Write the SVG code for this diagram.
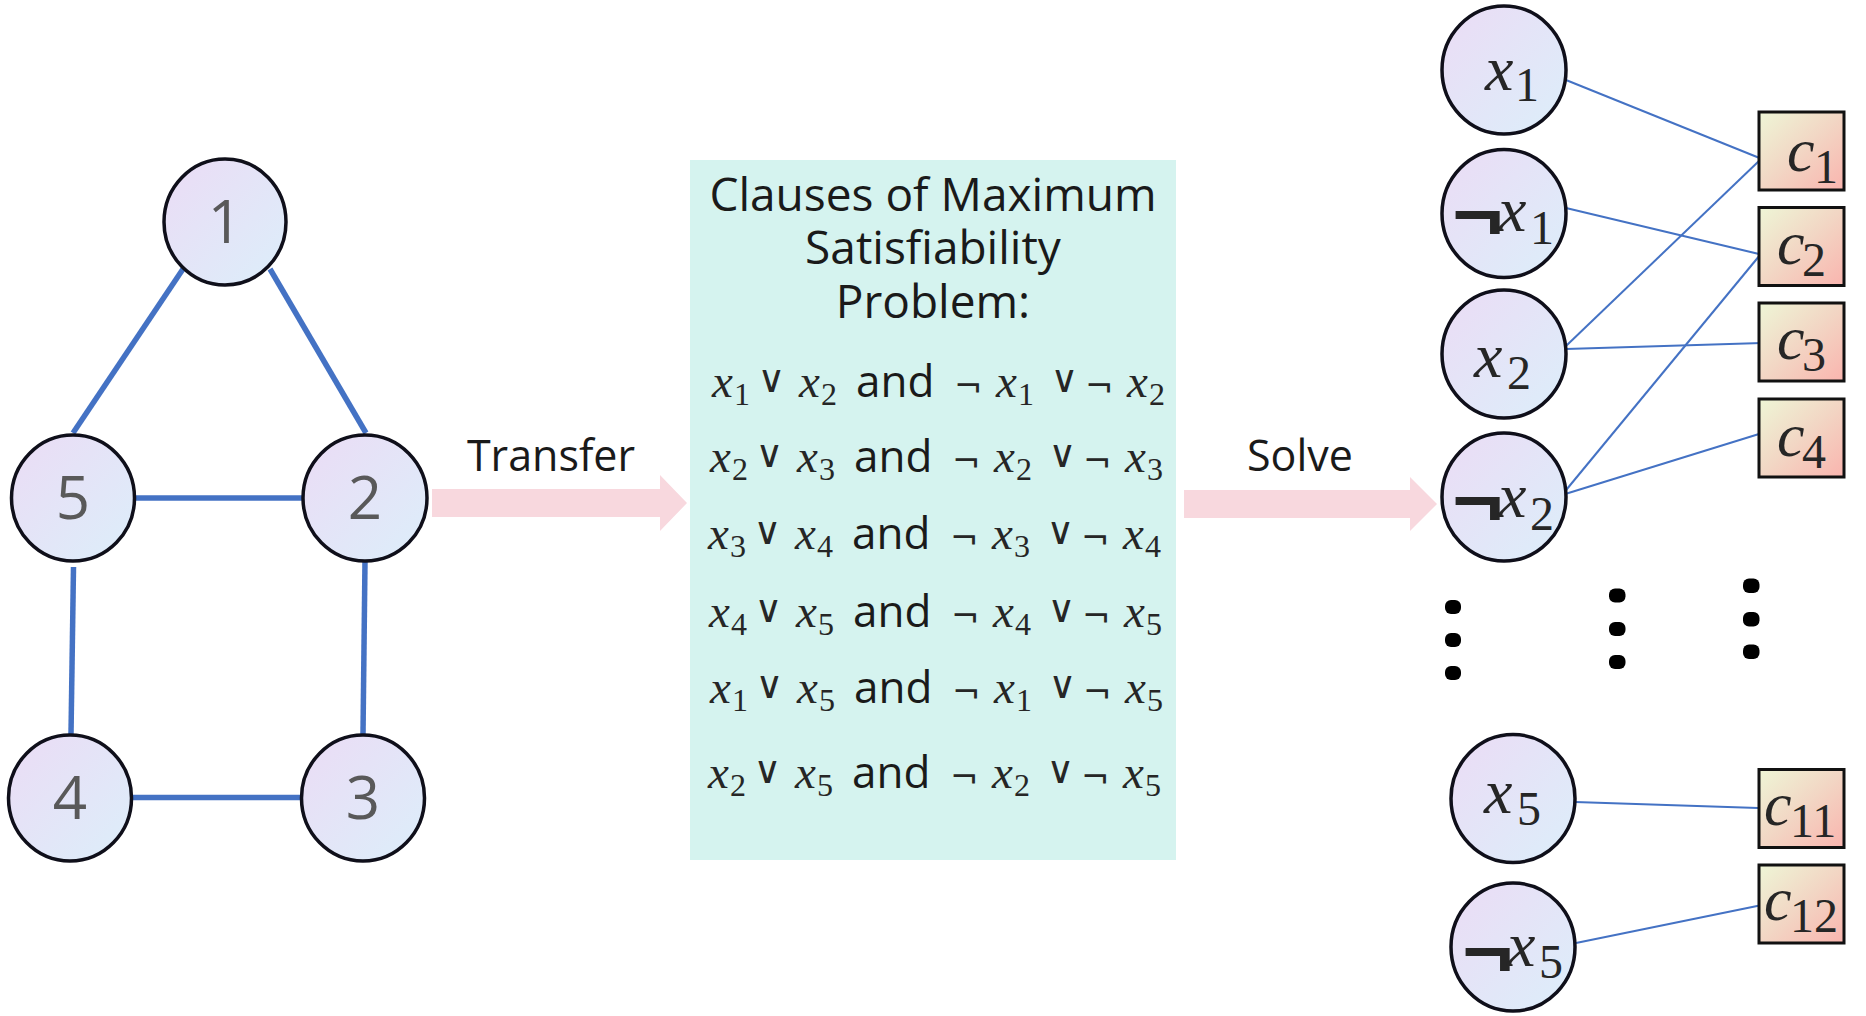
<svg xmlns="http://www.w3.org/2000/svg" width="1866" height="1016" viewBox="0 0 1866 1016">
<defs>
<linearGradient id="gNode" x1="0" y1="0" x2="1" y2="1">
<stop offset="0" stop-color="#EBDCF5"/>
<stop offset="1" stop-color="#DCEEFA"/>
</linearGradient>
<linearGradient id="gBox" x1="0" y1="0" x2="1" y2="1">
<stop offset="0" stop-color="#EEF6D6"/>
<stop offset="0.5" stop-color="#F2D6C4"/>
<stop offset="1" stop-color="#FAB4AE"/>
</linearGradient>
<style>
.node{fill:url(#gNode);stroke:#0F0F1A;stroke-width:3.5}
.box{fill:url(#gBox);stroke:#111;stroke-width:3}
.edge{stroke:#4472C4;stroke-width:5.5;fill:none}
.link{stroke:#4472C4;stroke-width:2;fill:none}
.arrow{fill:#F8D8DE}
.dig{font-family:"Open Sans",sans-serif;font-size:60px;fill:#595959;text-anchor:middle}
.sans{font-family:"Open Sans",sans-serif;fill:#1A1A1A}
.mi{font-family:"Liberation Serif",serif;font-style:italic;fill:#262626}
.mn{font-family:"Liberation Serif",serif;fill:#262626}
.sym{font-family:"DejaVu Sans",sans-serif;fill:#262626}
.neg{font-family:"Liberation Sans",sans-serif;font-weight:bold;font-size:72px;fill:#262626}
.r .mi{font-size:47px}
.r .mn{font-size:32px}
.r .sym{font-size:34px}
.r .or{font-size:38px}
.r .sans{font-size:44px}
.dot{fill:#000}
</style>
</defs>

<g id="connectors">
<line class="edge" x1="183" y1="269" x2="73" y2="433"/>
<line class="edge" x1="270" y1="269" x2="366" y2="433"/>
<line class="edge" x1="135" y1="498" x2="303" y2="498"/>
<line class="edge" x1="73.5" y1="567" x2="71" y2="734"/>
<line class="edge" x1="365" y1="561" x2="363" y2="734"/>
<line class="edge" x1="132" y1="797.5" x2="301" y2="797.5"/>
<line class="link" x1="1561" y1="78" x2="1762" y2="159"/>
<line class="link" x1="1566" y1="346" x2="1760" y2="160"/>
<line class="link" x1="1566" y1="208" x2="1759" y2="254"/>
<line class="link" x1="1562" y1="495" x2="1760" y2="255"/>
<line class="link" x1="1566" y1="349" x2="1762" y2="343"/>
<line class="link" x1="1562" y1="495" x2="1759" y2="434"/>
<line class="link" x1="1575" y1="802" x2="1758" y2="808"/>
<line class="link" x1="1576" y1="943" x2="1762" y2="905"/>
</g>

<g id="arrow-transfer">
<polygon class="arrow" points="432,489 660,489 660,475 687,503 660,531 660,517 432,517"/>
<text class="sans" x="551" y="471" font-size="43" text-anchor="middle">Transfer</text>
</g>
<g id="arrow-solve">
<polygon class="arrow" points="1184,490 1410,490 1410,477 1437,504 1410,531 1410,518 1184,518"/>
<text class="sans" x="1300" y="471" font-size="43" text-anchor="middle">Solve</text>
</g>

<g id="n1"><ellipse class="node" cx="225" cy="222" rx="61" ry="63"/><text class="dig" x="225" y="243">1</text></g>
<g id="n5"><ellipse class="node" cx="73" cy="498" rx="61.5" ry="63"/><text class="dig" x="73" y="519">5</text></g>
<g id="n2"><ellipse class="node" cx="365" cy="498" rx="62" ry="63"/><text class="dig" x="365" y="519">2</text></g>
<g id="n4"><ellipse class="node" cx="70" cy="798" rx="61.5" ry="63"/><text class="dig" x="70" y="819">4</text></g>
<g id="n3"><ellipse class="node" cx="363" cy="798" rx="61.5" ry="63"/><text class="dig" x="363" y="819">3</text></g>

<g id="clauses">
<rect x="690" y="160" width="486" height="700" fill="#D5F3EF"/>
<text class="sans" font-size="46" text-anchor="middle"><tspan x="933" y="211">Clauses of Maximum</tspan><tspan x="933" y="264">Satisfiability</tspan><tspan x="933" y="318">Problem:</tspan></text>
<g class="r" id="row1" transform="translate(0,397)">
<text class="mi" x="712" y="0">x</text><text class="mn" x="734" y="8">1</text>
<text class="sym or" x="757.5" y="-5">∨</text>
<text class="mi" x="799" y="0">x</text><text class="mn" x="821" y="8">2</text>
<text class="sans" x="856" y="0">and</text>
<text class="sym" x="954" y="0">¬</text>
<text class="mi" x="996" y="0">x</text><text class="mn" x="1018" y="8">1</text>
<text class="sym or" x="1050.5" y="-5">∨</text>
<text class="sym" x="1085" y="0">¬</text>
<text class="mi" x="1127" y="0">x</text><text class="mn" x="1149" y="8">2</text>
</g>
<g class="r" id="row2" transform="translate(-2,472)">
<text class="mi" x="712" y="0">x</text><text class="mn" x="734" y="8">2</text>
<text class="sym or" x="757.5" y="-5">∨</text>
<text class="mi" x="799" y="0">x</text><text class="mn" x="821" y="8">3</text>
<text class="sans" x="856" y="0">and</text>
<text class="sym" x="954" y="0">¬</text>
<text class="mi" x="996" y="0">x</text><text class="mn" x="1018" y="8">2</text>
<text class="sym or" x="1050.5" y="-5">∨</text>
<text class="sym" x="1085" y="0">¬</text>
<text class="mi" x="1127" y="0">x</text><text class="mn" x="1149" y="8">3</text>
</g>
<g class="r" id="row3" transform="translate(-4,549)">
<text class="mi" x="712" y="0">x</text><text class="mn" x="734" y="8">3</text>
<text class="sym or" x="757.5" y="-5">∨</text>
<text class="mi" x="799" y="0">x</text><text class="mn" x="821" y="8">4</text>
<text class="sans" x="856" y="0">and</text>
<text class="sym" x="954" y="0">¬</text>
<text class="mi" x="996" y="0">x</text><text class="mn" x="1018" y="8">3</text>
<text class="sym or" x="1050.5" y="-5">∨</text>
<text class="sym" x="1085" y="0">¬</text>
<text class="mi" x="1127" y="0">x</text><text class="mn" x="1149" y="8">4</text>
</g>
<g class="r" id="row4" transform="translate(-3,627)">
<text class="mi" x="712" y="0">x</text><text class="mn" x="734" y="8">4</text>
<text class="sym or" x="757.5" y="-5">∨</text>
<text class="mi" x="799" y="0">x</text><text class="mn" x="821" y="8">5</text>
<text class="sans" x="856" y="0">and</text>
<text class="sym" x="954" y="0">¬</text>
<text class="mi" x="996" y="0">x</text><text class="mn" x="1018" y="8">4</text>
<text class="sym or" x="1050.5" y="-5">∨</text>
<text class="sym" x="1085" y="0">¬</text>
<text class="mi" x="1127" y="0">x</text><text class="mn" x="1149" y="8">5</text>
</g>
<g class="r" id="row5" transform="translate(-2,703)">
<text class="mi" x="712" y="0">x</text><text class="mn" x="734" y="8">1</text>
<text class="sym or" x="757.5" y="-5">∨</text>
<text class="mi" x="799" y="0">x</text><text class="mn" x="821" y="8">5</text>
<text class="sans" x="856" y="0">and</text>
<text class="sym" x="954" y="0">¬</text>
<text class="mi" x="996" y="0">x</text><text class="mn" x="1018" y="8">1</text>
<text class="sym or" x="1050.5" y="-5">∨</text>
<text class="sym" x="1085" y="0">¬</text>
<text class="mi" x="1127" y="0">x</text><text class="mn" x="1149" y="8">5</text>
</g>
<g class="r" id="row6" transform="translate(-4,788)">
<text class="mi" x="712" y="0">x</text><text class="mn" x="734" y="8">2</text>
<text class="sym or" x="757.5" y="-5">∨</text>
<text class="mi" x="799" y="0">x</text><text class="mn" x="821" y="8">5</text>
<text class="sans" x="856" y="0">and</text>
<text class="sym" x="954" y="0">¬</text>
<text class="mi" x="996" y="0">x</text><text class="mn" x="1018" y="8">2</text>
<text class="sym or" x="1050.5" y="-5">∨</text>
<text class="sym" x="1085" y="0">¬</text>
<text class="mi" x="1127" y="0">x</text><text class="mn" x="1149" y="8">5</text>
</g>
</g>

<g id="v-x1"><ellipse class="node" cx="1504" cy="70" rx="62" ry="64"/><text class="mi" font-size="64" x="1485" y="90">x</text><text class="mn" font-size="48" x="1515" y="101">1</text></g>
<g id="v-nx1"><ellipse class="node" cx="1504" cy="213.5" rx="62" ry="64"/><text class="neg" transform="translate(1452,239) scale(1.22,1)">¬</text><text class="mi" font-size="64" x="1498" y="231">x</text><text class="mn" font-size="48" x="1530" y="244">1</text></g>
<g id="v-x2"><ellipse class="node" cx="1504" cy="354" rx="62" ry="64"/><text class="mi" font-size="64" x="1474" y="377">x</text><text class="mn" font-size="48" x="1507" y="389">2</text></g>
<g id="v-nx2"><ellipse class="node" cx="1504" cy="497" rx="62" ry="64"/><text class="neg" transform="translate(1452,525) scale(1.22,1)">¬</text><text class="mi" font-size="64" x="1498" y="517">x</text><text class="mn" font-size="48" x="1530" y="530">2</text></g>
<g id="v-x5"><ellipse class="node" cx="1513" cy="798.5" rx="62" ry="64"/><text class="mi" font-size="64" x="1484" y="813">x</text><text class="mn" font-size="48" x="1517" y="825">5</text></g>
<g id="v-nx5"><ellipse class="node" cx="1513" cy="947" rx="62" ry="64"/><text class="neg" transform="translate(1462,976) scale(1.22,1)">¬</text><text class="mi" font-size="64" x="1507" y="966">x</text><text class="mn" font-size="48" x="1539" y="978">5</text></g>

<g id="c1"><rect class="box" x="1759" y="112" width="85" height="78"/><text class="mi" font-size="62" x="1787" y="171">c</text><text class="mn" font-size="48" x="1814" y="183">1</text></g>
<g id="c2"><rect class="box" x="1759" y="207.5" width="85" height="78"/><text class="mi" font-size="62" x="1777" y="264">c</text><text class="mn" font-size="48" x="1802" y="276">2</text></g>
<g id="c3"><rect class="box" x="1759" y="303" width="85" height="78"/><text class="mi" font-size="62" x="1777" y="359">c</text><text class="mn" font-size="48" x="1802" y="371">3</text></g>
<g id="c4"><rect class="box" x="1759" y="399" width="85" height="78"/><text class="mi" font-size="62" x="1777" y="456">c</text><text class="mn" font-size="48" x="1802" y="468">4</text></g>
<g id="c11"><rect class="box" x="1759" y="769.5" width="85" height="78"/><text class="mi" font-size="62" x="1764" y="825">c</text><text class="mn" font-size="48" x="1790" y="837">11</text></g>
<g id="c12"><rect class="box" x="1759" y="865" width="85" height="78"/><text class="mi" font-size="62" x="1764" y="920">c</text><text class="mn" font-size="48" x="1790" y="932">12</text></g>

<g id="ellipsis">
<rect class="dot" x="1445" y="600" width="16" height="14" rx="6"/>
<rect class="dot" x="1445" y="633" width="16" height="14" rx="6"/>
<rect class="dot" x="1445" y="666" width="16" height="14" rx="6"/>
<rect class="dot" x="1609" y="588.5" width="16.5" height="14" rx="6"/>
<rect class="dot" x="1609" y="622" width="16.5" height="14" rx="6"/>
<rect class="dot" x="1609" y="655" width="16.5" height="14" rx="6"/>
<rect class="dot" x="1743" y="578.5" width="16.5" height="14.5" rx="6"/>
<rect class="dot" x="1743" y="612" width="16.5" height="14.5" rx="6"/>
<rect class="dot" x="1743" y="644.5" width="16.5" height="14.5" rx="6"/>
</g>
</svg>
